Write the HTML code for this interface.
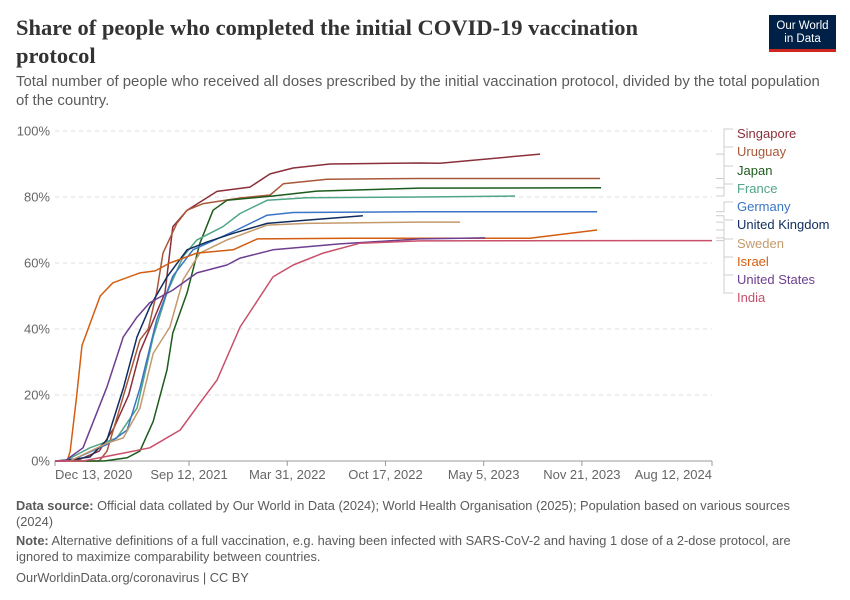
<!DOCTYPE html>
<html><head><meta charset="utf-8">
<style>
body{margin:0;width:850px;height:600px;background:#fff;font-family:"Liberation Sans",sans-serif;position:relative;overflow:hidden}
.t{position:absolute;white-space:nowrap}
#title{left:16px;top:14px;font-family:"Liberation Serif",serif;font-weight:bold;font-size:22.5px;line-height:28px;color:#333}
#sub{left:16px;top:73px;font-size:14.9px;line-height:19px;color:#5b5b5b}
#logo{position:absolute;left:769px;top:15px;width:67px;height:37px;background:#002147;color:#fff;font-size:11.5px;line-height:13px;text-align:center;box-sizing:border-box;padding-top:5px;border-bottom:3px solid #ce261e}
.foot{left:16px;font-size:12.8px;color:#5b5b5b;line-height:16px}
</style></head><body>
<div id="title" class="t">Share of people who completed the initial COVID-19 vaccination<br>protocol</div>
<div id="sub" class="t">Total number of people who received all doses prescribed by the initial vaccination protocol, divided by the total population<br>of the country.</div>
<div id="logo">Our World<br>in Data</div>
<svg id="chart" width="850" height="600" style="position:absolute;left:0;top:0"></svg>
<div class="t foot" style="top:498px"><b>Data source:</b> Official data collated by Our World in Data (2024); World Health Organisation (2025); Population based on various sources<br>(2024)</div>
<div class="t foot" style="top:533px"><b>Note:</b> Alternative definitions of a full vaccination, e.g. having been infected with SARS-CoV-2 and having 1 dose of a 2-dose protocol, are<br>ignored to maximize comparability between countries.</div>
<div class="t foot" style="top:570px">OurWorldinData.org/coronavirus | CC BY</div>
<script>
const yTicks=[0,20,40,60,80,100];
const xTickDays=[0,273,473,673,873,1073,1338];
const xTickLabels=["Dec 13, 2020","Sep 12, 2021","Mar 31, 2022","Oct 17, 2022","May 5, 2023","Nov 21, 2023","Aug 12, 2024"];
const countries=["Singapore","Uruguay","Japan","France","Germany","United Kingdom","Sweden","Israel","United States","India"];
const colors=["#8c2f3a","#a8583a","#1d5b1d","#4fa586","#3a75c4","#102d5e","#c49a6c","#d35d10","#6d3e91","#c94f6b"];
const legendY=[133,151,170,188,206,224,243,261,279,297];
const sgDays=[0,50,90,120,150,173,224,240,269,330,397,438,485,560,743,784,988];
const sgVals=[0,0.5,3,10,20,33,51,71,76,81.7,83,87,88.8,90,90.3,90.2,93];
const uyDays=[0,90,106,132,173,190,207,220,248,269,302,377,438,465,554,743,1110];
const uyVals=[0,0,3,16,36.7,40,51,63,72,76,78,79.7,80.6,84,85.4,85.6,85.6];
const jpDays=[0,100,147,173,200,228,240,269,295,322,350,444,533,743,1112];
const jpVals=[0,0,1,3,12,27.6,38.8,51,66,76,79,80.3,81.8,82.7,82.8];
const frDays=[0,20,71,126,167,200,228,261,289,342,377,432,513,743,937];
const frVals=[0,0,4,7,16,37.6,51,62,67,71,75,79,79.8,80,80.3];
const deDays=[0,30,106,147,173,207,240,281,370,432,485,743,1104];
const deVals=[0,0,5,9.4,22,42.7,56,64,70,74.5,75.3,75.5,75.5];
const ukDays=[0,25,71,106,139,167,193,228,269,310,363,432,513,627];
const ukVals=[0,0.3,1.2,6.4,22,37.6,46.7,55.8,64,66.4,69,72,73,74.3];
const seDays=[0,30,106,139,173,200,234,261,295,350,432,513,743,825];
const seVals=[0,0,5.4,7,16,32.6,40.6,55,63,67,71.5,72,72.4,72.4];
const ilDays=[0,25,31,44,55,92,118,173,204,234,289,363,412,600,967,1104];
const ilVals=[0,0,3,19.5,35,50,54,57,57.6,60,63,64,67.3,67.5,67.5,70];
const usDays=[0,20,57,106,139,167,193,240,289,350,377,444,580,743,876];
const usVals=[0,0,4,22.5,37.6,43.6,48,51.8,57,59.4,61.5,64,65.8,67.3,67.6];
const inDays=[0,57,147,193,255,295,330,377,444,485,546,621,743,1338];
const inVals=[0,0,2.6,4,9.4,17.6,24.5,40.6,55.8,59.4,63,66,66.7,66.8];
const seriesDays=[sgDays,uyDays,jpDays,frDays,deDays,ukDays,seDays,ilDays,usDays,inDays];
const seriesVals=[sgVals,uyVals,jpVals,frVals,deVals,ukVals,seVals,ilVals,usVals,inVals];

const X0=55,X1=712,Y0=461,Y1=131,DMAX=1338;
const xs=d=>X0+(X1-X0)*d/DMAX;
const ys=v=>Y0-(Y0-Y1)*v/100;
const svg=document.getElementById('chart');
const NS='http://www.w3.org/2000/svg';
function mk(tag,attrs){const e=document.createElementNS(NS,tag);for(const k in attrs)e.setAttribute(k,attrs[k]);svg.appendChild(e);return e;}
yTicks.forEach(v=>{
  if(v>0){const g=mk('line',{x1:X0,x2:X1,y1:ys(v),y2:ys(v),stroke:'#ddd','stroke-dasharray':'4,4'});
  
  }
  const t=mk('text',{x:50,y:ys(v)+4.5,'text-anchor':'end','font-size':13,fill:'#666','font-family':'Liberation Sans, sans-serif'});
  t.textContent=v+'%';
  
  
});
const ax=mk('line',{x1:X0,x2:X1,y1:Y0,y2:Y0,stroke:'#999'});


xTickDays.forEach((d,i)=>{
  const tk=mk('line',{x1:xs(d),x2:xs(d),y1:Y0,y2:Y0+5,stroke:'#999'});
  
  
  const anchor=i==0?'start':(i==xTickDays.length-1?'end':'middle');
  const t=mk('text',{x:xs(d),y:Y0+18,'text-anchor':anchor,'font-size':13,fill:'#666','font-family':'Liberation Sans, sans-serif'});
  t.textContent=xTickLabels[i];
  
  
});
countries.forEach((c,i)=>{
  const days=seriesDays[i],vals=seriesVals[i];
  const pts=days.map((d,j)=>xs(d).toFixed(1)+','+ys(vals[j]).toFixed(1)).join(' ');
  const p=mk('polyline',{points:pts,fill:'none',stroke:colors[i],'stroke-width':1.5,'stroke-linejoin':'round'});
  
  
  const endY=ys(vals[vals.length-1]);
  const ly=legendY[i];
  const con=mk('polyline',{points:`716,${endY.toFixed(1)} 724,${endY.toFixed(1)} 724,${ly-4} 733,${ly-4}`,fill:'none',stroke:'#ccc','stroke-width':1});
  
  
  const t=mk('text',{x:737,y:ly+5,'font-size':13,fill:colors[i],'font-family':'Liberation Sans, sans-serif'});
  t.textContent=c;
  
  
});
</script>
</body></html>
